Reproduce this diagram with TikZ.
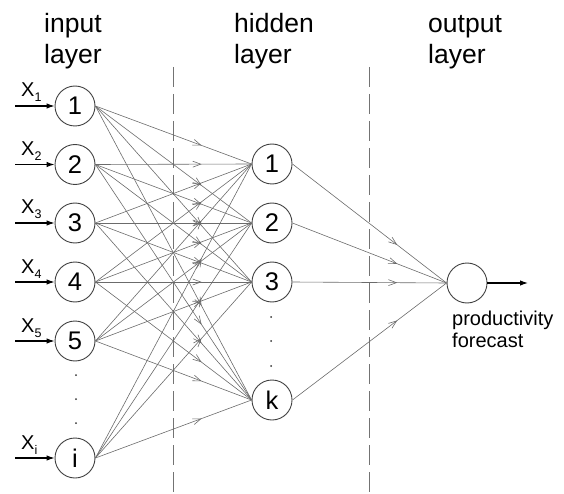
\documentclass[tikz,border=0pt]{standalone}
\usepackage{fontspec}
\setmainfont{Liberation Sans}
\usetikzlibrary{arrows.meta,decorations.markings}
\begin{document}
\begin{tikzpicture}[x=1pt,y=-1pt,
  neuron/.style={circle,draw=black!75,line width=0.9pt,minimum size=40pt,inner sep=0pt,font=\fontsize{25.5}{25.5}\selectfont},
  conn/.style={color=black!58,line width=0.6pt,postaction={decorate},
    decoration={markings,mark=at position #1 with {\arrow{Straight Barb[length=8pt,width=6pt,line width=0.6pt]}}}},
  conn/.default=0.68,
  inarrow/.style={-{Latex[length=8pt,width=5.5pt]},line width=1.1pt,black},
  dashline/.style={color=black!55,line width=0.8pt,dash pattern=on 20pt off 7pt},
  layerlabel/.style={font=\fontsize{26.5}{31}\selectfont,anchor=base west,inner sep=0pt},
  xlabel/.style={font=\fontsize{20}{20}\selectfont,anchor=base west,inner sep=0pt},
  outlabel/.style={font=\fontsize{20}{22}\selectfont,anchor=base west,inner sep=0pt},
  dotnode/.style={circle,fill=black!80,inner sep=0pt,minimum size=2pt}
]
\useasboundingbox (0,0) rectangle (564,494);

% layer labels
\node[layerlabel] (l1a) at (44,33) {input};
\node[layerlabel] (l1b) at (44,64) {layer};
\node[layerlabel] (l2a) at (234,33) {hidden};
\node[layerlabel] (l2b) at (234,64) {layer};
\node[layerlabel] (l3a) at (428,33) {output};
\node[layerlabel] (l3b) at (428,64) {layer};

% dashed separators
\coordinate (d1t) at (173,67);
\coordinate (d1b) at (173,494);
\coordinate (d2t) at (369,67);
\coordinate (d2b) at (369,494);
\draw[dashline] (d1t) -- (d1b);
\draw[dashline] (d2t) -- (d2b);

% input neurons
\node[neuron] (in1) at (75,106) {1};
\node[neuron] (in2) at (75,164.5) {2};
\node[neuron] (in3) at (75,223) {3};
\node[neuron] (in4) at (75,282) {4};
\node[neuron] (in5) at (75,341) {5};
\node[neuron] (in6) at (75,458) {i};

% hidden neurons
\node[neuron] (h1) at (272,164) {1};
\node[neuron] (h2) at (272,223) {2};
\node[neuron] (h3) at (272,282) {3};
\node[neuron] (h4) at (272,400) {k};

% output neuron
\node[neuron] (out) at (467,283) {};

% dots
\node[dotnode] (id1) at (76,375) {};
\node[dotnode] (id2) at (76,399) {};
\node[dotnode] (id3) at (76,423) {};
\node[dotnode] (hd1) at (271,317) {};
\node[dotnode] (hd2) at (271,341) {};
\node[dotnode] (hd3) at (271,366) {};

% input arrows and labels
\foreach \n/\y/\s in {1/106/1,2/164.5/2,3/223/3,4/282/4,5/341/5,6/458/i}{
  \coordinate (xs\n) at (15,\y);
  \draw[inarrow] (xs\n) -- (in\n.west);
  \node[xlabel] (xl\n) at (21,\y-9) {X\raisebox{-5pt}{\fontsize{12.5}{12.5}\selectfont\s}};
}

% input -> hidden connections
\foreach \a in {1,...,6}{
  \foreach \b in {1,...,4}{
    \draw[conn] (in\a.east) -- (h\b.west);
  }
}

% hidden -> output
\foreach \b in {1,...,4}{
  \draw[conn] (h\b.east) -- (out.west);
}

% output arrow
\coordinate (oe) at (528,283);
\draw[inarrow] (out.east) -- (oe);

% output label
\node[outlabel] (pf1) at (452,325) {productivity};
\node[outlabel] (pf2) at (452,347) {forecast};
\end{tikzpicture}
\end{document}
